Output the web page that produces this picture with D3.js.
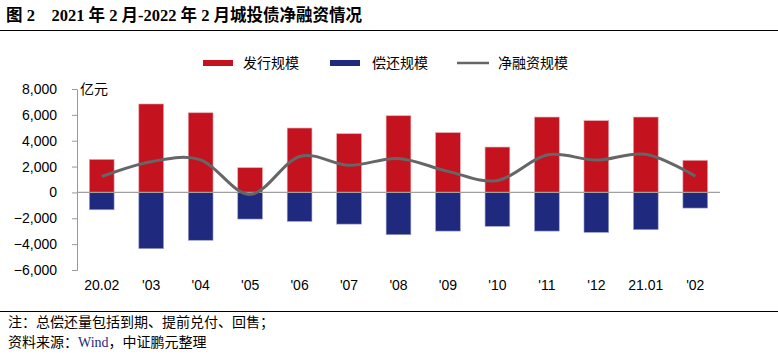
<!DOCTYPE html>
<html><head><meta charset="utf-8">
<script src="https://cdn.jsdelivr.net/npm/d3@7/dist/d3.min.js"></script>
<style>body{margin:0;background:#fff}svg{display:block}</style>
</head><body>
<script>
const categories = ["20.02","'03","'04","'05","'06","'07","'08","'09","'10","'11","'12","21.01","'02"];
const issuance = [2550,6840,6160,1910,4980,4540,5930,4620,3510,5830,5550,5830,2480];
const repayment = [-1340,-4350,-3700,-2060,-2240,-2450,-3270,-2990,-2620,-2990,-3090,-2880,-1210];
const netFinancing = [1230,2380,2520,-150,2780,2100,2620,1630,920,2900,2500,2950,1260];
const yTicks = [-6000,-4000,-2000,0,2000,4000,6000,8000];
const seriesNames = ["发行规模","偿还规模","净融资规模"];

const W=778,H=357;
const svg=d3.select("body").append("svg").attr("width",W).attr("height",H);
const cn="'Noto Sans CJK SC', sans-serif";

// title
svg.append("text").attr("x",6).attr("y",21).attr("font-family","'Liberation Serif', 'Noto Sans CJK SC', serif")
  .attr("font-weight","bold").attr("font-size",16.5).attr("fill","#000").style("white-space","pre")
  .text("图 2    2021 年 2 月-2022 年 2 月城投债净融资情况");
svg.append("line").attr("x1",0).attr("x2",W).attr("y1",30.5).attr("y2",30.5).attr("stroke","#000").attr("stroke-width",1.2);
svg.append("line").attr("x1",0).attr("x2",W).attr("y1",311.5).attr("y2",311.5).attr("stroke","#000").attr("stroke-width",1.2);

const x=d3.scaleBand().domain(categories).range([77,720]).paddingInner(0.5).paddingOuter(0.25);
const y=d3.scaleLinear().domain([-6000,8000]).range([270,89]);

// y axis
const yAxis=svg.append("g").attr("transform","translate(77,0)")
  .call(d3.axisLeft(y).tickValues(yTicks).tickSize(5).tickPadding(15).tickFormat(d3.format(",")));
yAxis.select(".domain").attr("stroke","#999").attr("d","M-5,270.5H0.5V89.5");
yAxis.selectAll(".tick line").attr("stroke","#999");
yAxis.selectAll(".tick text").attr("font-family","'Liberation Sans', Arial, sans-serif").attr("font-size",14).attr("fill","#000");

svg.append("text").attr("x",80).attr("y",94).attr("font-family",cn).attr("font-size",14).attr("fill","#000").text("亿元");

// bars
svg.append("g").selectAll("rect").data(categories).join("rect")
  .attr("x",d=>x(d)).attr("width",x.bandwidth())
  .attr("y",(d,i)=>y(issuance[i])).attr("height",(d,i)=>y(0)-y(issuance[i]))
  .attr("fill","#C4121F").attr("stroke","#E8A0A8").attr("stroke-width",0.6);
svg.append("g").selectAll("rect").data(categories).join("rect")
  .attr("x",d=>x(d)).attr("width",x.bandwidth())
  .attr("y",y(0)).attr("height",(d,i)=>y(repayment[i])-y(0))
  .attr("fill","#1F2A7E").attr("stroke","#9DA3CC").attr("stroke-width",0.6);

// zero line
svg.append("line").attr("x1",77).attr("x2",720).attr("y1",y(0)).attr("y2",y(0)).attr("stroke","#A0A0A0").attr("stroke-width",1.2);

// net line
const line=d3.line().x((d,i)=>x(categories[i])+x.bandwidth()/2).y(d=>y(d)).curve(d3.curveCardinal.tension(0));
svg.append("path").datum(netFinancing).attr("d",line).attr("fill","none").attr("stroke","#666666").attr("stroke-width",3);

// x labels
svg.append("g").selectAll("text").data(categories).join("text")
  .attr("x",d=>x(d)+x.bandwidth()/2).attr("y",290).attr("text-anchor","middle")
  .attr("font-family","'Liberation Sans', Arial, sans-serif").attr("font-size",14).attr("fill","#000").text(d=>d);

// legend
const lg=svg.append("g");
const leg=[{x:203,t:"rect",c:"#C4121F",tx:243},{x:330,t:"rect",c:"#1F2A7E",tx:372},{x:457,t:"line",c:"#666666",tx:498}];
leg.forEach((l,i)=>{
  if(l.t==="rect") lg.append("rect").attr("x",l.x).attr("y",60).attr("width",30).attr("height",6).attr("fill",l.c);
  else lg.append("line").attr("x1",l.x).attr("x2",l.x+32).attr("y1",63).attr("y2",63).attr("stroke",l.c).attr("stroke-width",2.5);
  lg.append("text").attr("x",l.tx).attr("y",68).attr("font-family",cn).attr("font-size",14).attr("fill","#000").text(seriesNames[i]);
});

// notes
svg.append("text").attr("x",8).attr("y",327).attr("font-family",cn).attr("font-size",14).attr("fill","#000").text("注：总偿还量包括到期、提前兑付、回售；");
const t2=svg.append("text").attr("x",8).attr("y",347).attr("font-family",cn).attr("font-size",14).attr("fill","#000");
t2.append("tspan").text("资料来源：");
t2.append("tspan").attr("font-family","'Liberation Serif', serif").attr("fill","#1F2A7E").text("Wind");
t2.append("tspan").text("，中证鹏元整理");
</script>
</body></html>
